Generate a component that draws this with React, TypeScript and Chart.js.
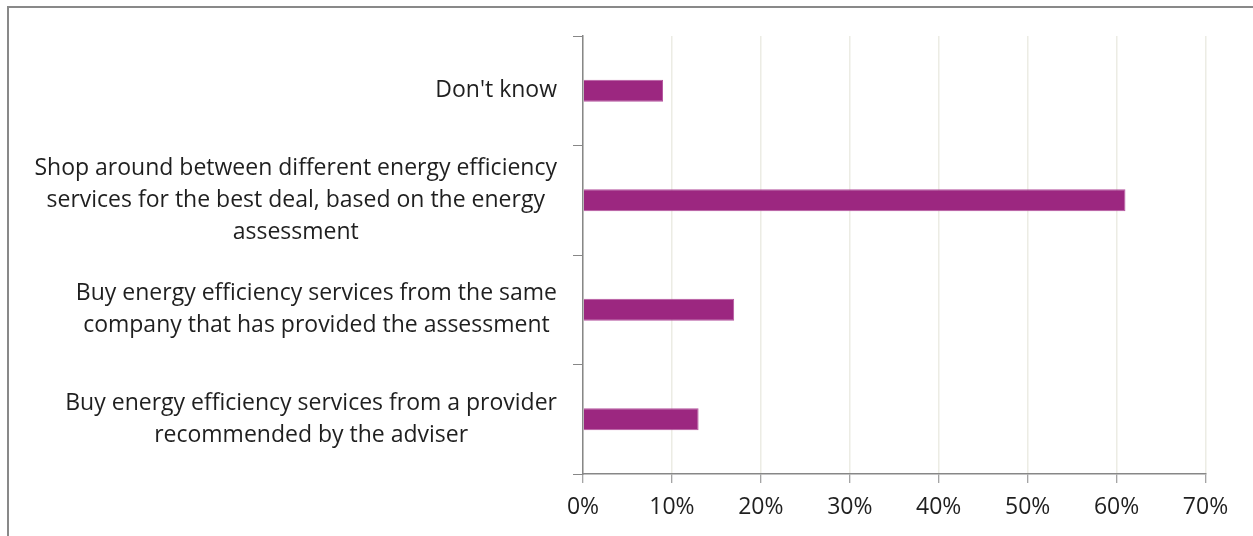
import React, { useEffect, useRef } from "react";
import { Chart, registerables } from "chart.js";

Chart.register(...registerables);

const categories: string[][] = [
  ["Don't know"],
  [
    "Shop around between different energy efficiency",
    "services for the best deal, based on the energy",
    "assessment",
  ],
  [
    "Buy energy efficiency services from the same",
    "company that has provided the assessment",
  ],
  [
    "Buy energy efficiency services from a provider",
    "recommended by the adviser",
  ],
];
const values: number[] = [9, 61, 17, 13];
const xMax = 70;
const xStep = 10;

const FONT = "'Open Sans', 'Noto Sans', sans-serif";
const TEXT_COLOR = "#1f1f1f";
const AXIS_COLOR = "#878787";
const GRID_COLOR = "#ECECE4";
const BAR_COLOR = "#9C2780";
const Y_FONT_SIZE = 23;
const Y_LINE_SPACING = 32;
const Y_TICK_LEN = 10;
const Y_LABEL_PAD = 16;

const yLabelPlugin = {
  id: "yLabelBlocks",
  afterDraw(chart: any) {
    const scale = chart.scales.y;
    const ctx = chart.ctx;
    ctx.save();
    ctx.font = `${Y_FONT_SIZE}px ${FONT}`;
    ctx.fillStyle = TEXT_COLOR;
    ctx.textBaseline = "middle";
    ctx.textAlign = "center";
    const rightEdge = scale.right - Y_TICK_LEN - Y_LABEL_PAD;
    categories.forEach((lines, i) => {
      const yc = scale.getPixelForTick(i);
      const blockW = Math.max(...lines.map((l) => ctx.measureText(l).width));
      const cx = rightEdge - blockW / 2;
      const y0 = yc - ((lines.length - 1) * Y_LINE_SPACING) / 2;
      lines.forEach((l, j) => {
        ctx.fillText(l, cx, y0 + j * Y_LINE_SPACING);
      });
    });
    ctx.restore();
  },
};

export default function App() {
  const ref = useRef<HTMLCanvasElement | null>(null);
  useEffect(() => {
    if (!ref.current) return;
    const chart = new Chart(ref.current, {
      type: "bar",
      data: {
        labels: categories,
        datasets: [
          {
            data: values,
            backgroundColor: BAR_COLOR,
            borderColor: "#B5569F",
            borderWidth: 1,
            barPercentage: 0.2,
            categoryPercentage: 1,
          },
        ],
      },
      options: {
        indexAxis: "y",
        animation: false,
        responsive: false,
        maintainAspectRatio: false,
        layout: { padding: { top: 36, right: 47.5, left: 0, bottom: 0 } },
        plugins: {
          legend: { display: false },
          tooltip: { enabled: false },
        },
        scales: {
          x: {
            min: 0,
            max: xMax,
            ticks: {
              stepSize: xStep,
              callback: (v: any) => `${v}%`,
              color: TEXT_COLOR,
              font: { family: FONT, size: 23 },
              padding: 11,
              maxRotation: 0,
            },
            grid: {
              color: GRID_COLOR,
              lineWidth: 1.5,
              tickColor: AXIS_COLOR,
              tickLength: 9,
              tickWidth: 1,
            },
            border: { color: AXIS_COLOR, width: 1.5 },
            afterFit: (s: any) => {
              s.height = 62;
            },
          },
          y: {
            ticks: { display: false },
            grid: {
              drawOnChartArea: false,
              drawTicks: true,
              tickLength: Y_TICK_LEN,
              color: AXIS_COLOR,
              tickColor: AXIS_COLOR,
            },
            border: { color: AXIS_COLOR, width: 1.5 },
            afterFit: (s: any) => {
              s.width = 583;
            },
          },
        },
      },
      plugins: [yLabelPlugin],
    });
    return () => chart.destroy();
  }, []);

  return (
    <>
      <div
        style={{
          position: "fixed",
          left: 7,
          top: 6,
          width: 1246,
          height: 530,
          borderLeft: "2px solid #898989",
          borderTop: "2px solid #898989",
          boxSizing: "border-box",
          background: "#fff",
        }}
      />
      <div style={{ position: "fixed", left: 0, top: 0, width: 1253, height: 536 }}>
        <canvas ref={ref} width={1253} height={536} />
      </div>
    </>
  );
}
